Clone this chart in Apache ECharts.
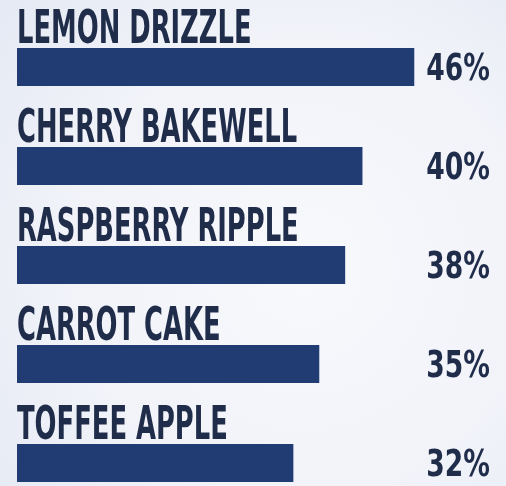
<!DOCTYPE html>
<html>
<head>
<meta charset="utf-8">
<script src="https://cdn.jsdelivr.net/npm/echarts@6/dist/echarts.min.js"></script>
<style>
html,body{margin:0;padding:0;}
#chart{width:506px;height:486px;}
</style>
</head>
<body>
<div id="chart"></div>
<script>
const categories = ['LEMON DRIZZLE', 'CHERRY BAKEWELL', 'RASPBERRY RIPPLE', 'CARROT CAKE', 'TOFFEE APPLE'];
const values = [46, 40, 38, 35, 32];
const axisMax = 55;

const BAR_COLOR = '#213b73';
const TEXT_COLOR = '#1f2c4a';
const FONT = "'DejaVu Sans Condensed', 'DejaVu Sans', sans-serif";

const chart = echarts.init(document.getElementById('chart'), null, {renderer: 'canvas'});

const option = {
  backgroundColor: {
    type: 'radial', x: 0.6, y: 0.55, r: 0.8,
    colorStops: [
      {offset: 0, color: '#f8f9fc'},
      {offset: 0.6, color: '#f1f3f9'},
      {offset: 1, color: '#e6eaf4'}
    ]
  },
  animation: false,
  grid: {left: 17, right: 14, top: 17.5, bottom: -26.5, containLabel: false, outerBoundsMode: 'none'},
  xAxis: {type: 'value', min: 0, max: axisMax, show: false},
  yAxis: {type: 'category', data: categories, inverse: true, show: false},
  series: [
    {
      type: 'bar',
      data: values,
      barWidth: 38,
      itemStyle: {color: BAR_COLOR},
      silent: true
    },
    {
      type: 'custom',
      silent: true,
      clip: false,
      encode: {x: 0, y: 1},
      data: values.map((v, i) => [v, i]),
      renderItem: function (params, api) {
        const i = api.value(1);
        const v = api.value(0);
        const left = api.coord([0, i]);
        const right = api.coord([axisMax, i]);
        const half = 19;
        return {
          type: 'group',
          children: [
            {
              type: 'text',
              x: left[0],
              y: left[1] - half + 6,
              scaleX: 0.61,
              style: {
                text: categories[i],
                fill: TEXT_COLOR,
                font: 'bold 47px ' + FONT,
                align: 'left',
                verticalAlign: 'bottom'
              }
            },
            {
              type: 'text',
              x: right[0] - 2,
              y: left[1] + 3,
              scaleX: 0.8,
              style: {
                text: v + '%',
                fill: TEXT_COLOR,
                font: 'bold 37px ' + FONT,
                align: 'right',
                verticalAlign: 'middle'
              }
            }
          ]
        };
      }
    }
  ]
};
chart.setOption(option);
</script>
</body>
</html>
